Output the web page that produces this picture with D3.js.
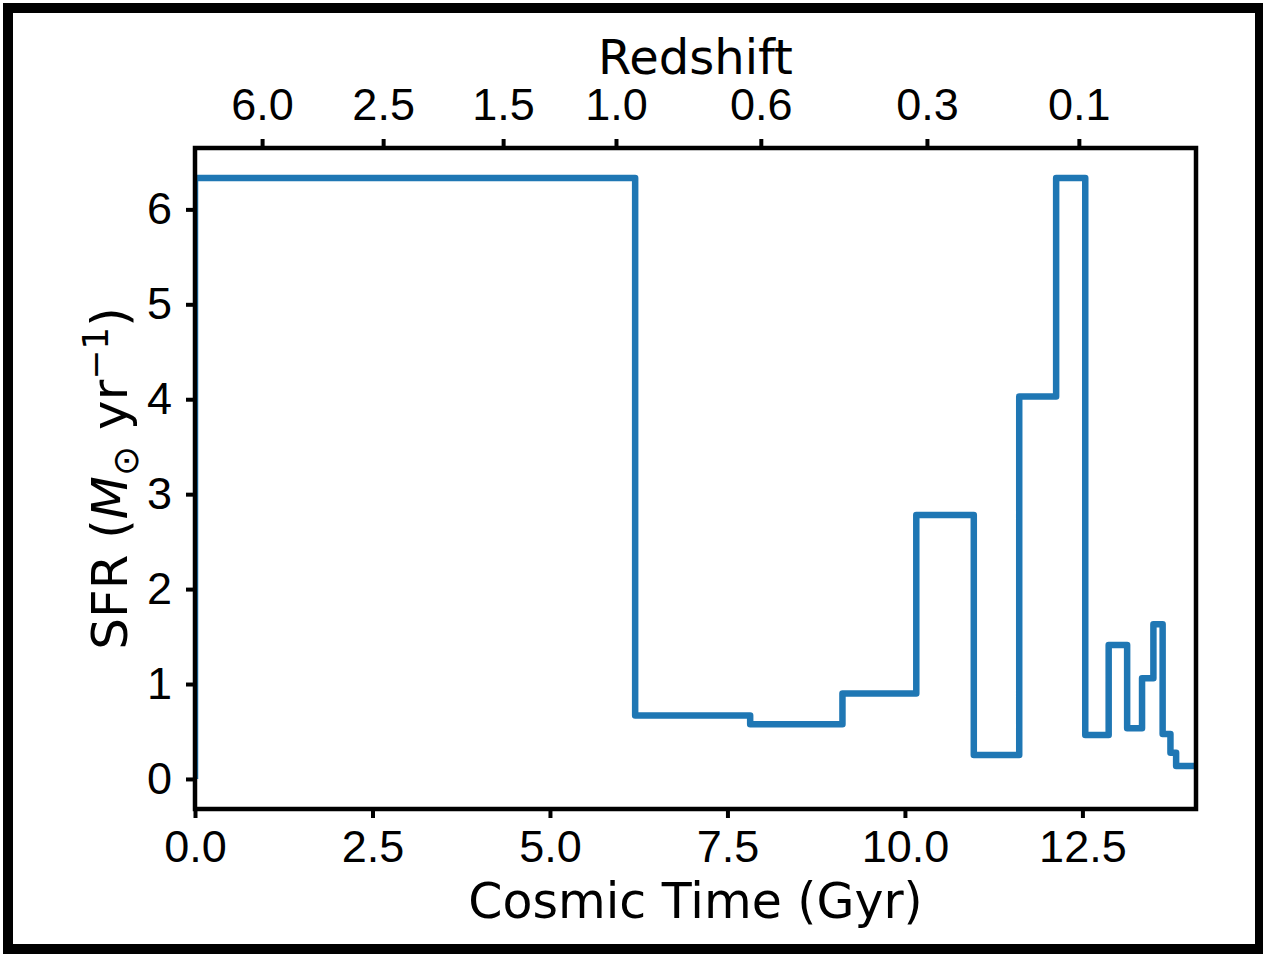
<!DOCTYPE html>
<html lang="en">
  <head>
    <meta charset="UTF-8" />
    <title>SFR history</title>
    <script src="https://cdn.jsdelivr.net/npm/d3@7/dist/d3.min.js"></script>
    <style>
      html,
      body {
        margin: 0;
        padding: 0;
        background: #fff;
      }
      svg {
        display: block;
        font-family: 'DejaVu Sans', sans-serif;
      }
      .tick text {
        font-size: 45px;
        fill: #000;
      }
      .tick line {
        stroke: #000;
        stroke-width: 4px;
      }
      .domain {
        display: none;
      }
    </style>
  </head>
  <body>
    <svg width="1263" height="954"></svg>
    <script>
      // step edges (Gyr) and SFR value held in each bin
      const binEdges = [0, 6.2, 7.82, 9.12, 10.16, 10.97, 11.61, 12.13, 12.54, 12.87, 13.13, 13.34, 13.5, 13.63, 13.74, 13.82, 14.1];
      const sfrValues = [6.33, 0.668, 0.576, 0.9, 2.78, 0.253, 4.03, 6.33, 0.463, 1.41, 0.534, 1.06, 1.63, 0.474, 0.277, 0.137];

      const timeTicks = [0, 2.5, 5, 7.5, 10, 12.5];
      const sfrTicks = [0, 1, 2, 3, 4, 5, 6];
      // redshift labels and the cosmic time they sit at
      const zLabels = ['6.0', '2.5', '1.5', '1.0', '0.6', '0.3', '0.1'];
      const zTimes = [0.945, 2.65, 4.34, 5.93, 7.97, 10.31, 12.45];

      const tMax = 14.1;

      const svg = d3.select('svg');
      const mLeft = 195,
        mRight = 1196,
        mTop = 148,
        mBottom = 809;

      // outer black frame
      svg.append('rect').attr('x', 3).attr('y', 3).attr('width', 1260).attr('height', 10).attr('fill', '#000');
      svg.append('rect').attr('x', 3).attr('y', 3).attr('width', 10).attr('height', 951).attr('fill', '#000');
      svg.append('rect').attr('x', 1255).attr('y', 3).attr('width', 8).attr('height', 951).attr('fill', '#000');
      svg.append('rect').attr('x', 3).attr('y', 944).attr('width', 1260).attr('height', 10).attr('fill', '#000');

      const x = d3.scaleLinear().domain([0, tMax]).range([mLeft, mRight]);

      const yMax = d3.max(sfrValues);
      const pad = 0.05 * yMax;
      const y = d3.scaleLinear().domain([-pad, yMax + pad]).range([mBottom, mTop]);

      const points = [[0, 0]];
      sfrValues.forEach(function(v, i) {
        points.push([binEdges[i], v]);
      });
      points.push([binEdges[binEdges.length - 1], sfrValues[sfrValues.length - 1]]);

      svg
        .append('clipPath')
        .attr('id', 'plotClip')
        .append('rect')
        .attr('x', mLeft)
        .attr('y', mTop)
        .attr('width', mRight - mLeft)
        .attr('height', mBottom - mTop);

      const line = d3
        .line()
        .x(function(d) {
          return x(d[0]);
        })
        .y(function(d) {
          return y(d[1]);
        })
        .curve(d3.curveStepAfter);

      svg
        .append('path')
        .datum(points)
        .attr('clip-path', 'url(#plotClip)')
        .attr('d', line)
        .attr('fill', 'none')
        .attr('stroke', '#1f77b4')
        .attr('stroke-width', 6.5)
        .attr('stroke-linejoin', 'round');

      // axes
      svg
        .append('g')
        .attr('transform', 'translate(0,' + mBottom + ')')
        .call(
          d3
            .axisBottom(x)
            .tickValues(timeTicks)
            .tickFormat(d3.format('.1f'))
            .tickSize(9)
            .tickPadding(12)
        );

      svg
        .append('g')
        .attr('transform', 'translate(' + mLeft + ',0)')
        .call(
          d3
            .axisLeft(y)
            .tickValues(sfrTicks)
            .tickFormat(d3.format('d'))
            .tickSize(9)
            .tickPadding(14)
        );

      svg
        .append('g')
        .attr('transform', 'translate(0,' + mTop + ')')
        .call(
          d3
            .axisTop(x)
            .tickValues(zTimes)
            .tickFormat(function(d, i) {
              return zLabels[i];
            })
            .tickSize(9)
            .tickPadding(19)
        );

      // spines
      svg
        .append('rect')
        .attr('x', mLeft)
        .attr('y', mTop)
        .attr('width', mRight - mLeft)
        .attr('height', mBottom - mTop)
        .attr('fill', 'none')
        .attr('stroke', '#000')
        .attr('stroke-width', 4.5);

      // labels
      svg
        .append('text')
        .attr('x', (mLeft + mRight) / 2)
        .attr('y', 918)
        .attr('text-anchor', 'middle')
        .style('font-size', '49px')
        .text('Cosmic Time (Gyr)');

      svg
        .append('text')
        .attr('x', (mLeft + mRight) / 2)
        .attr('y', 74)
        .attr('text-anchor', 'middle')
        .style('font-size', '48px')
        .text('Redshift');

      const yl = svg
        .append('text')
        .attr('transform', 'translate(127,' + (mTop + mBottom) / 2 + ') rotate(-90)')
        .attr('text-anchor', 'middle')
        .style('font-size', '50px');
      yl.append('tspan').text('SFR (');
      yl.append('tspan').style('font-style', 'italic').text('M');
      yl.append('tspan').attr('dy', 11).style('font-size', '36px').text('\u2299');
      yl.append('tspan').attr('dy', -11).text('  yr');
      yl.append('tspan').attr('dy', -19).style('font-size', '36px').text('\u22121');
      yl.append('tspan').attr('dy', 19).text(')');
    </script>
  </body>
</html>
